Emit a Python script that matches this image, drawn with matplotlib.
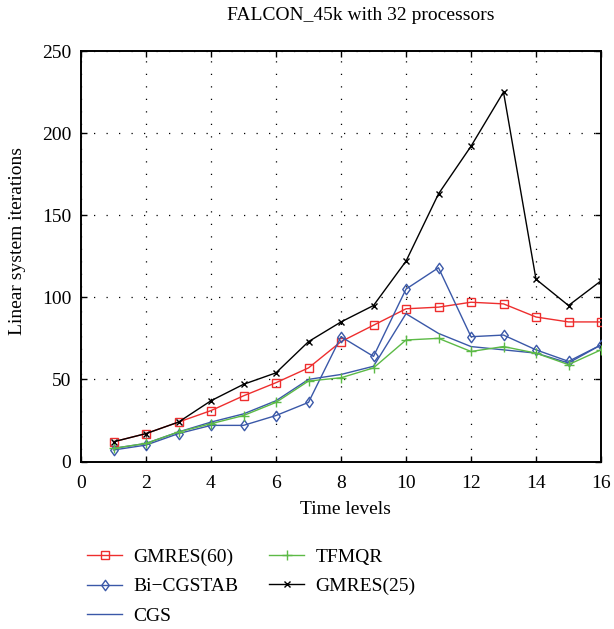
import matplotlib
matplotlib.use("Agg")
import matplotlib.pyplot as plt
from matplotlib.path import Path

plt.rcParams['font.family'] = ['Liberation Serif', 'DejaVu Serif']

time_levels = list(range(1, 17))
gmres60 = [12, 17, 24, 31, 40, 48, 57, 73, 83, 93, 94, 97, 96, 88, 85, 85]
bicgstab = [7, 10, 17, 22, 22, 28, 36, 76, 64, 105, 118, 76, 77, 68, 61, 71]
cgs = [8, 11, 18, 24, 29, 37, 50, 53, 58, 90, 78, 70, 68, 66, 60, 71]
tfmqr = [8, 11, 18, 23, 28, 36, 49, 51, 57, 74, 75, 67, 70, 66, 59, 68]
gmres25 = [12, 17, 24, 37, 47, 54, 73, 85, 95, 122, 163, 192, 225, 111, 95, 110]

title = "FALCON_45k with 32 processors"
xlabel = "Time levels"
ylabel = "Linear system iterations"
xticks = list(range(0, 17, 2))
yticks = [0, 50, 100, 150, 200, 250]

red = "#ee2e2e"
blue = "#3a58a8"
green = "#5cba46"

diamond = Path([(0, 1), (0.72, 0), (0, -1), (-0.72, 0), (0, 1)],
               [Path.MOVETO, Path.LINETO, Path.LINETO, Path.LINETO, Path.CLOSEPOLY])

fig = plt.figure(figsize=(6.14, 6.29), dpi=100)
ax = fig.add_axes([81 / 614, 1 - 461.5 / 629, 520 / 614, 410.5 / 629])

lw = 1.0
ax.plot(time_levels, gmres60, color=red, lw=lw, marker='s', ms=6, mfc='none', mec=red, mew=1.0, label='GMRES(60)', zorder=3)
ax.plot(time_levels, bicgstab, color=blue, lw=lw, marker=diamond, ms=7.5, mfc='none', mec=blue, mew=1.0, label='Bi\u2212CGSTAB', zorder=3)
ax.plot(time_levels, cgs, color=blue, lw=lw, label='CGS', zorder=3)
ax.plot(time_levels, tfmqr, color=green, lw=lw, marker='+', ms=7, mew=1.0, label='TFMQR', zorder=3)
ax.plot(time_levels, gmres25, color='black', lw=lw, marker='x', ms=4.5, mew=1.0, label='GMRES(25)', zorder=3)

ax.set_xlim(0, 16)
ax.set_ylim(0, 250)
ax.set_xticks(xticks)
ax.set_yticks(yticks)
ax.tick_params(direction='in', top=True, right=True, labelsize=14, length=4, width=1)
ax.tick_params(axis='x', pad=10)
ax.tick_params(axis='y', pad=7)
ax.grid(True, linestyle=(0, (1, 9)), color='black', lw=0.9)
for s in ax.spines.values():
    s.set_linewidth(1.4)

fig.text(361 / 614, 1 - 15 / 629, title, fontsize=14, ha='center', va='center')
fig.text(345 / 614, 1 - 510 / 629, xlabel, fontsize=14, ha='center', va='center')
fig.text(18 / 614, 1 - 241 / 629, ylabel, fontsize=14, ha='center', va='center', rotation=90)

handles, labels = ax.get_legend_handles_labels()
leg = fig.legend(handles, labels,
                 ncol=2, loc='upper left', bbox_to_anchor=(87 / 614, 1 - 548 / 629),
                 frameon=False, fontsize=14, handlelength=1.8, borderpad=0, borderaxespad=0,
                 columnspacing=1.6, labelspacing=0.62, handletextpad=0.57)

fig.savefig("out.png", dpi=100)
